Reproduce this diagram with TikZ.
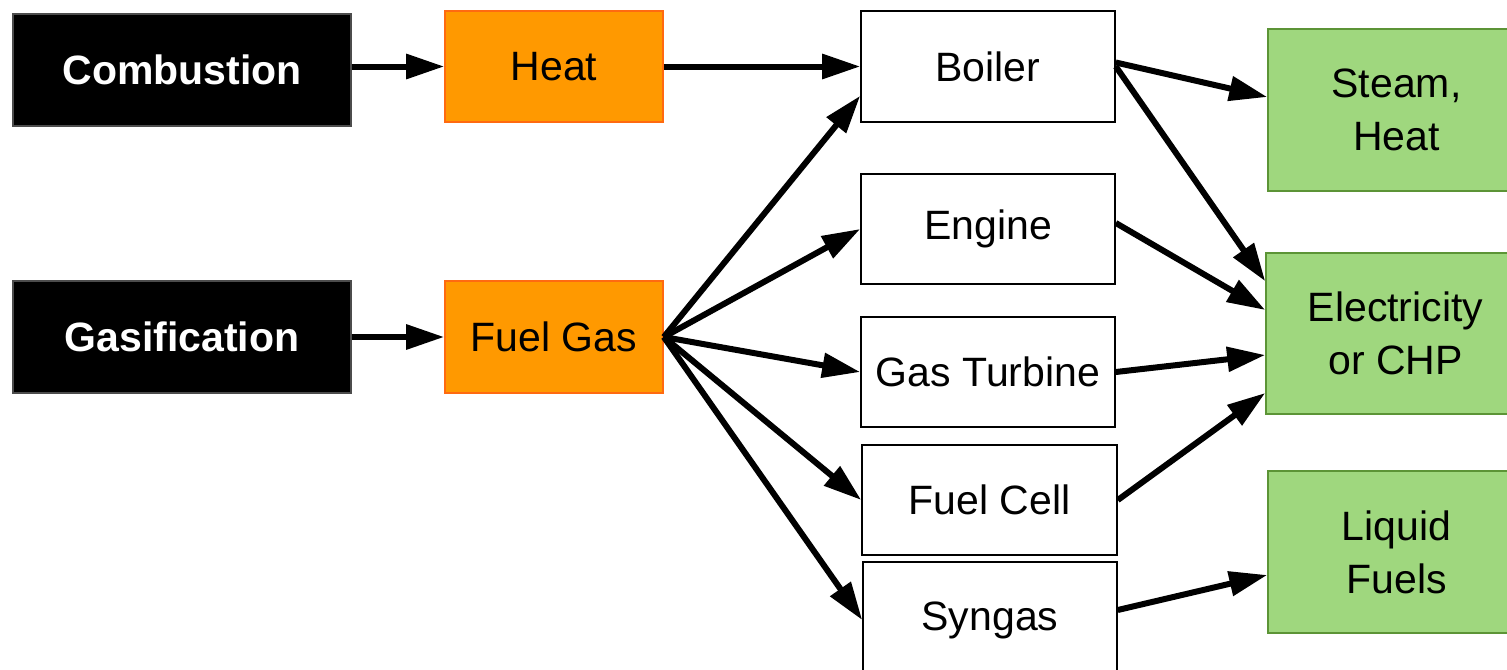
\documentclass[tikz,border=0pt]{standalone}
\usepackage{fontspec}
\setmainfont{Liberation Sans}
\usetikzlibrary{arrows.meta,calc}
\definecolor{orfill}{HTML}{FF9900}
\definecolor{ordraw}{HTML}{FF6A10}
\definecolor{grfill}{HTML}{9FD77E}
\definecolor{grdraw}{HTML}{5C9436}
\tikzset{
  base/.style={rectangle, inner sep=0pt, align=center, font=\fontsize{20.5}{26.5}\selectfont},
  blackbox/.style={base, fill=black, draw=black!70, line width=0.6pt, text=white, font=\fontsize{20.5}{26.5}\selectfont\bfseries, minimum width=169pt, minimum height=56pt},
  orangebox/.style={base, fill=orfill, draw=ordraw, line width=0.8pt, minimum width=109pt, minimum height=55.5pt},
  whitebox/.style={base, fill=white, draw=black, line width=0.8pt, minimum width=127pt, minimum height=55.5pt},
  greenbox/.style={base, fill=grfill, draw=grdraw, line width=0.8pt, minimum width=128.5pt, minimum height=81pt},
  conn/.style={line width=3pt, -{Triangle[length=19pt,width=12pt]}},
}
\begin{document}
\begin{tikzpicture}[x=0.5pt,y=-0.5pt]
\clip (0,0) rectangle (1507,669);
\fill[white] (0,0) rectangle (1507,669);
% left column
\node[blackbox] (comb) at (182,70) {Combustion};
\node[blackbox] (gasi) at (182,337) {Gasification};
% orange column
\node[orangebox] (heat) at (554,66.5) {Heat};
\node[orangebox, minimum height=56pt] (fuelgas) at (554,337) {Fuel Gas};
% white column
\node[whitebox] (boiler) at (988,66.5) {Boiler};
\node[whitebox, minimum height=55pt] (engine) at (988,229) {Engine};
\node[whitebox, minimum height=55pt] (turbine) at (988,372) {Gas Turbine};
\node[whitebox, minimum width=127.5pt, minimum height=55pt] (cell) at (989.5,500) {Fuel Cell};
\node[whitebox, minimum height=58pt] (syngas) at (990,620) {Syngas};
% green column
\node[greenbox] (steam) at (1396.5,110) {Steam,\\Heat};
\node[greenbox, minimum width=129.5pt, minimum height=80.5pt] (elec) at (1395.5,333.5) {Electricity\\or CHP};
\node[greenbox] (liquid) at (1396.5,552) {Liquid\\Fuels};
% connectors
\draw[conn] (comb.east |- heat.west) -- (heat.west);
\draw[conn] (gasi.east) -- (fuelgas.west);
\draw[conn] (heat.east) -- (boiler.west);
\draw[conn] (fuelgas.east) -- ([yshift=13.5pt]boiler.south west);
\draw[conn] (fuelgas.east) -- (engine.west);
\draw[conn] (fuelgas.east) -- (turbine.west);
\draw[conn] (fuelgas.east) -- (cell.west);
\draw[conn] (fuelgas.east) -- (syngas.west);
\draw[conn] ([yshift=2pt]boiler.east) -- ([yshift=6.5pt]steam.west);
\draw[conn] (boiler.east) -- ([yshift=-14.5pt]elec.north west);
\draw[conn] ([yshift=3pt]engine.east) -- ([yshift=11.75pt]elec.west);
\draw[conn] (turbine.east) -- ([yshift=-10.75pt]elec.west);
\draw[conn] (cell.east) -- ([yshift=-29.75pt]elec.west);
\draw[conn] ([yshift=5pt]syngas.east) -- ([yshift=-11.5pt]liquid.west);
\end{tikzpicture}
\end{document}
